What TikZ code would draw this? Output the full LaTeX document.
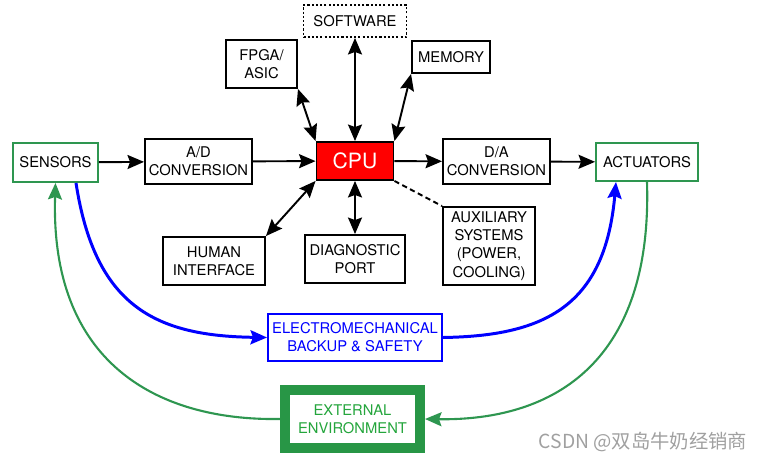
\documentclass[tikz,border=0pt]{standalone}
\usepackage{fontspec}
\setmainfont{TeX Gyre Heros}
\newfontfamily\cjk{Noto Sans CJK SC}
\usetikzlibrary{arrows.meta}
\definecolor{sensgreen}{RGB}{46,150,80}
\definecolor{envgreen}{RGB}{40,150,70}
\definecolor{envtext}{RGB}{36,165,60}
\definecolor{markgray}{RGB}{160,160,160}

\begin{document}
\begin{tikzpicture}[
	>={Stealth[length=0.33cm, width=0.28cm, inset=0.05cm]},
	blk/.style={rectangle, draw, line width=1.1pt, align=center, inner sep=1pt, font=\fontsize{8.4}{10.4}\selectfont},
	link/.style={line width=1.1pt}
	]
	\useasboundingbox (-7.1,3.22) rectangle (8.18,-6.08);
	%% processor in the middle
	\node[blk, fill=red, text=white, minimum width=1.54cm, minimum height=0.76cm, font=\fontsize{12}{14}\selectfont] (CPU) at (0,0) {CPU};
	\node[blk, dash pattern=on 1.2pt off 1.2pt, minimum width=2.06cm, minimum height=0.64cm] (software) at (0,2.8) {SOFTWARE};
	\node[blk, minimum width=1.42cm, minimum height=0.96cm] (fpga) at (-1.87,1.94) {FPGA/\\ASIC};
	\node[blk, minimum width=1.56cm, minimum height=0.64cm] (memory) at (1.92,2.08) {MEMORY};
	%% signal chain
	\node[blk, draw=sensgreen, minimum width=1.7cm, minimum height=0.78cm] (sensors) at (-5.99,-0.03) {SENSORS};
	\node[blk, minimum width=2.14cm, minimum height=0.9cm] (adconv) at (-3.13,-0.01) {A/D\\CONVERSION};
	\node[blk, minimum width=2.14cm, minimum height=0.9cm] (daconv) at (2.83,-0.01) {D/A\\CONVERSION};
	\node[blk, draw=sensgreen, minimum width=2.04cm, minimum height=0.76cm] (actuators) at (5.84,-0.02) {ACTUATORS};
	%% below the processor
	\node[blk, minimum width=2.04cm, minimum height=0.96cm] (human) at (-2.82,-2.0) {HUMAN\\INTERFACE};
	\node[blk, minimum width=2.0cm, minimum height=0.96cm] (diag) at (0,-1.96) {DIAGNOSTIC\\PORT};
	\node[blk, minimum width=1.84cm, minimum height=1.56cm] (aux) at (2.68,-1.7) {AUXILIARY\\SYSTEMS\\(POWER,\\COOLING)};
	\node[blk, draw=blue, text=blue, minimum width=3.48cm, minimum height=0.94cm] (backup) at (0,-3.53) {ELECTROMECHANICAL\\BACKUP \& SAFETY};
	\node[blk, draw=envgreen, line width=0.2cm, text=envtext, minimum width=2.7cm, minimum height=1.16cm] (environment) at (-0.05,-5.16) {EXTERNAL\\ENVIRONMENT};
	%
	\draw[link, ->] (sensors) -- (adconv);
	\draw[link, ->] (adconv) -- (CPU);
	\draw[link, ->] (CPU) -- (daconv);
	\draw[link, ->] (daconv) -- (actuators);
	\draw[link, <->] (CPU) -- (software);
	\draw[link, <->] (CPU.north west) -- (fpga.south east);
	\draw[link, <->] (CPU.north east) -- (memory.south west);
	\draw[link, <->] (CPU.south west) -- (human.north east);
	\draw[link, <->] (CPU) -- (diag);
	\draw[link, dash pattern=on 3pt off 2pt] (CPU.south east) -- (aux.north west);
	%% backup path and outside world
	\draw[blue, line width=1.7pt, ->] ([xshift=0.41cm]sensors.south) .. controls (-5.2,-2.9) and (-4.0,-3.5) .. (backup.west);
	\draw[blue, line width=1.7pt, ->] (backup.east) .. controls (3.8,-3.5) and (5.0,-2.9) .. ([xshift=-0.62cm]actuators.south);
	\draw[sensgreen, line width=1.2pt, ->] (actuators.south) .. controls (5.95,-4.0) and (4.0,-5.2) .. (environment.east);
	\draw[sensgreen, line width=1.2pt, ->] (environment.west) .. controls (-4.0,-5.2) and (-6.1,-4.0) .. (sensors.south);
	%
	\node[text=markgray, font=\cjk\fontsize{11}{13}\selectfont] (mark) at (5.76,-5.62) {CSDN @双岛牛奶经销商};
\end{tikzpicture}
\end{document}
